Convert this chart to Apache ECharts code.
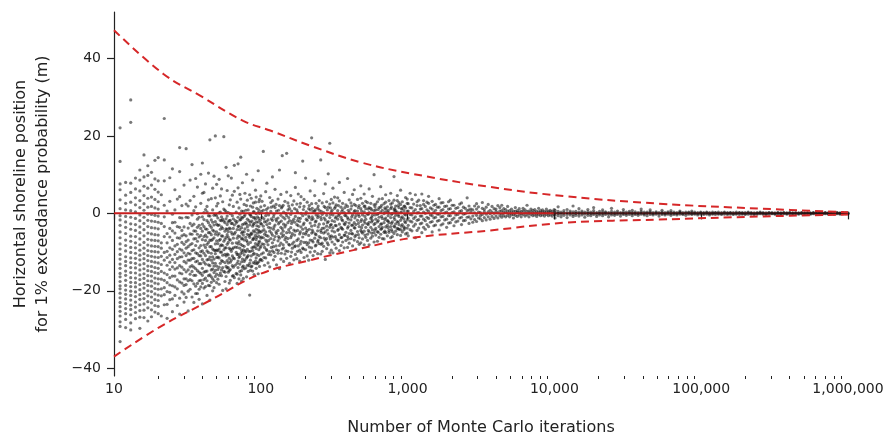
<!DOCTYPE html>
<html><head><meta charset="utf-8">
<script src="https://cdn.jsdelivr.net/npm/echarts@6/dist/echarts.min.js"></script>
<style>html,body{margin:0;padding:0;background:#fff}#c{width:888px;height:437px}</style>
</head><body><div id="c"></div>
<script>
// ---- tick labels ----
const xTicks = [10, 100, 1000, 10000, 100000, 1000000];
const xMinorTicks = [20,30,40,50,60,70,80,90,200,300,400,500,600,700,800,900,
  2000,3000,4000,5000,6000,7000,8000,9000,20000,30000,40000,50000,60000,70000,80000,90000,
  200000,300000,400000,500000,600000,700000,800000,900000];
const yTicks = [-40, -20, 0, 20, 40];

// ---- bound curves ----
const upperBound = [[10,47.3],[21.7,36],[38.6,30.4],[75.9,23.9],[116,21.4],[217,17.5],[477,13.2],
  [1050,10.3],[3670,6.8],[12000,4.4],[52000,2.5],[260000,1.2],[1000000,0.3]];
const lowerBound = [[10,-37],[20.6,-29.3],[45,-22.5],[100,-15.6],[217,-12.1],[477,-9.1],
  [1050,-6.4],[3670,-4.4],[12000,-2.4],[52000,-1.6],[260000,-0.8],[1000000,-0.3]];
const zeroLine = [[10,0],[1000000,0]];

// ---- scatter samples: [iterations, [positions...]] ----
const cloudLow = [
 [11,[-33.1,-29.2,-28.0,-26.5,-25.3,-24.1,-23.0,-21.8,-20.6,-19.5,-18.7,-17.6,-16.4,-15.5,-14.2,-13.1,-11.8,-10.6,-9.2,-7.9,-6.3,-4.8,-3.1,-1.7,-0.6,1.2,3.5,6.1,7.6,13.4,22.1]],
 [12,[-29.5,-27.4,-25.9,-24.6,-23.3,-22.1,-20.9,-19.8,-18.6,-17.3,-16.0,-14.9,-13.5,-12.4,-11.2,-9.7,-8.3,-6.9,-5.2,-3.6,-2.2,-0.8,0.9,2.6,4.7,8.0]],
 [13,[-30.1,-28.3,-26.2,-24.8,-23.7,-22.4,-21.2,-20.1,-18.9,-17.8,-16.6,-15.3,-14.0,-12.7,-11.5,-10.1,-8.8,-7.2,-5.9,-4.1,-2.7,-1.0,0.7,2.9,5.4,7.8,23.5,29.3]],
 [14,[-27.2,-25.6,-24.2,-22.9,-21.5,-20.3,-19.0,-17.9,-16.7,-15.4,-14.1,-12.9,-11.6,-10.3,-8.9,-7.6,-6.0,-4.4,-2.9,-1.3,0.4,2.2,4.0,6.3,9.1]],
 [15,[-29.7,-26.8,-25.1,-23.6,-22.2,-21.0,-19.7,-18.4,-17.1,-15.9,-14.6,-13.3,-12.0,-10.8,-9.5,-8.1,-6.6,-5.0,-3.5,-1.9,-0.4,1.5,3.3,5.8,8.6,11.2]],
 [16,[-26.9,-25.0,-23.4,-22.0,-20.7,-19.3,-18.1,-16.8,-15.6,-14.3,-13.0,-11.7,-10.4,-9.0,-7.5,-5.8,-4.2,-2.6,-1.0,0.8,2.5,4.6,7.0,9.4,15.1]],
 [17,[-27.8,-24.4,-22.8,-21.3,-20.0,-18.6,-17.4,-16.1,-14.8,-13.6,-12.2,-10.9,-9.6,-8.2,-6.7,-5.1,-3.4,-1.8,-0.2,1.6,3.9,6.5,9.8,12.3]],
 [18,[-26.7,-24.9,-23.1,-21.6,-20.2,-18.8,-17.5,-16.2,-15.0,-13.7,-12.4,-11.1,-9.8,-8.4,-6.9,-5.3,-3.7,-2.0,-0.3,1.8,4.2,7.3,10.6]],
 [19,[-25.5,-23.8,-22.3,-20.8,-19.4,-18.0,-16.7,-15.3,-14.0,-12.6,-11.3,-9.9,-8.5,-7.0,-5.5,-3.8,-2.1,-0.5,1.4,3.6,6.2,8.9,13.7]],
 [20,[-25.9,-24.0,-22.5,-21.1,-19.6,-18.2,-16.9,-15.5,-14.2,-12.8,-11.4,-10.0,-8.6,-7.1,-5.6,-4.0,-2.3,-0.7,1.1,3.0,5.5,8.4,14.4]]
];
const cloud20to50 = [
 [21,[-26.5,-21.3,-17.0,-13.2,-11.1,-7.6,-2.6,4.8]],
 [22,[-23.6,-19.2,-15.4,-12.1,-6.0,-0.9,2.1,8.4,13.8,24.5]],
 [23,[-27.1,-20.2,-17.9,-13.4,-9.8,-5.2,0.6]],
 [24,[-22.3,-18.5,-14.5,-10.8,-8.9,-3.9,3.1,9.2]],
 [25,[-25.4,-18.7,-16.2,-11.9,-7.0,-4.5,-0.2,11.5]],
 [26,[-21.2,-16.2,-12.7,-10.6,-8.4,-2.3,6.1]],
 [27,[-23.8,-19.5,-14.1,-11.7,-9.9,-6.3,3.7]],
 [28,[-26.0,-17.7,-13.5,-9.2,-6.4,-1.1,4.3,10.8,17.0]],
 [29,[-20.3,-15.6,-13.9,-11.2,-7.5,-4.4,2.0]],
 [30,[-22.9,-18.6,-16.9,-12.4,-8.0,-3.5,7.3]],
 [31,[-18.4,-15.1,-12.8,-9.0,-5.8,-1.0,2.4,16.7]],
 [32,[-25.2,-20.1,-14.6,-10.3,-6.9,-3.8,1.9]],
 [33,[-17.1,-13.8,-10.5,-8.1,-5.3,3.3,8.6]],
 [34,[-21.6,-15.0,-11.7,-7.8,-3.2,-0.4,12.6]],
 [35,[-23.0,-18.2,-13.9,-9.4,-6.6,-2.8,4.4]],
 [36,[-18.8,-16.0,-12.5,-10.2,-4.6,1.7,9.0]],
 [37,[-20.7,-14.8,-12.3,-7.2,-3.6,-0.1,6.8]],
 [38,[-22.2,-17.4,-13.0,-8.9,-6.1,-3.1]],
 [39,[-19.0,-15.5,-11.0,-8.3,-5.7,2.6,10.1]],
 [40,[-23.4,-18.1,-14.2,-9.7,-6.8,-0.9,5.2,13.0]],
 [41,[-19.3,-15.2,-12.6,-8.2,-3.4,0.2,5.4]],
 [42,[-16.7,-13.1,-10.9,-7.0,-4.0,1.0,7.6]],
 [43,[-21.2,-14.9,-12.0,-9.7,-6.1,-1.9,0.4]],
 [44,[-18.6,-13.3,-10.1,-7.5,-2.4,3.5,10.4]],
 [45,[-22.4,-15.9,-11.3,-8.6,-5.0,-0.7,19.0]],
 [46,[-17.8,-14.6,-12.1,-8.6,-5.5,-1.7,3.8]],
 [47,[-20.0,-14.4,-11.2,-9.2,-4.3,0.9,6.5]],
 [48,[-19.2,-15.3,-11.8,-6.3,-3.0,-0.5,9.6]],
 [49,[-16.3,-12.9,-10.4,-7.9,-2.1,4.0,20.0]],
 [50,[-17.9,-13.6,-9.5,-7.1,-4.8,1.9,7.5]]
];
const cloud50to100 = [
 [51,[-17.0,-11.3,-7.8,-3.1,2.6]],[52,[-18.3,-13.9,-9.2,-5.2,0.1,8.8]],[53,[-15.4,-10.0,-6.7,-1.8,4.5]],
 [54,[-16.1,-12.2,-8.1,-3.5,-0.9,6.3]],[55,[-19.9,-14.0,-10.8,-5.9,3.0]],[56,[-15.0,-9.4,-7.2,-2.0,1.1,19.8]],
 [57,[-17.6,-12.7,-8.9,-4.6,0.8]],[58,[-19.5,-13.7,-11.0,-6.2,-1.4,11.9]],[59,[-14.1,-10.5,-5.5,-2.9,5.9]],
 [60,[-15.2,-12.8,-7.5,-4.7,0.2,9.7]],[61,[-18.0,-11.6,-9.0,-3.8,2.2]],[62,[-17.3,-14.5,-6.9,-1.8,3.5]],
 [63,[-12.1,-9.8,-4.9,-2.6,9.1]],[64,[-16.2,-11.0,-7.7,-0.6,4.7]],[65,[-13.9,-8.9,-6.4,-3.9,1.8]],
 [66,[-16.6,-11.7,-5.3,-3.0,5.7,12.4]],[68,[-15.5,-10.1,-7.6,-2.5,0.3]],[69,[-18.1,-12.9,-8.8,-4.2,2.9]],
 [70,[-14.0,-10.6,-5.8,-1.0,6.6,12.8]],[71,[-16.9,-11.4,-7.3,-3.3,1.4]],[72,[-13.1,-9.0,-6.0,-0.2,4.9]],
 [73,[-15.9,-10.4,-8.0,-1.6,3.7,14.5]],[74,[-17.5,-12.5,-6.6,-3.7,0.6]],[75,[-11.8,-8.3,-4.8,-1.2,7.9]],
 [76,[-16.8,-13.6,-9.4,-5.6,0.5]],[77,[-14.3,-10.7,-6.9,-2.7,2.3]],[78,[-12.0,-9.7,-4.0,-0.4,5.2]],
 [80,[-16.4,-11.5,-7.0,-2.8,2.0,10.1]],[81,[-13.4,-9.3,-5.4,-1.5,3.4]],[82,[-15.0,-10.9,-8.0,-4.4,0.9]],
 [84,[-21.1,-12.9,-6.2,-3.0,-0.2,4.8]],[85,[-14.7,-9.8,-7.5,-2.3,1.9]],[86,[-13.8,-11.0,-5.1,-0.8,3.9]],
 [88,[-14.9,-9.6,-6.8,-3.3,1.6,8.6]],[89,[-12.7,-8.7,-4.5,-1.1,2.7]],[90,[-15.8,-10.3,-6.3,-2.6,0.4]],
 [92,[-12.3,-7.8,-5.7,-1.5,2.9,6.0]],[93,[-14.2,-9.1,-4.1,-0.1,4.2]],[94,[-13.0,-10.6,-6.2,-3.2,1.3]],
 [96,[-15.6,-8.0,-4.3,-2.2,0.2,11.0]],[97,[-12.5,-9.4,-5.9,-1.3,3.0]],[98,[-13.7,-7.2,-4.6,0.0,3.6]],
 [100,[-11.9,-8.5,-6.4,-2.6,1.7,4.5]]
];
const cloud100to300 = [
 [102,[-12.2,-7.9,-4.6,-1.0,3.1]],[104,[-10.2,-6.3,-3.3,0.8,16.0]],[106,[-13.4,-8.8,-5.4,-2.2,2.0]],
 [108,[-11.5,-6.9,-4.8,-0.6,5.6]],[110,[-9.6,-7.4,-2.9,0.1,7.8]],[112,[-12.8,-8.1,-5.9,-1.7,1.4]],
 [115,[-13.8,-9.9,-4.6,-2.6,4.1]],[117,[-10.7,-6.5,-3.8,0.5,2.8]],[120,[-9.7,-7.6,-5.6,-1.8,3.3,9.4]],
 [122,[-12.0,-8.6,-4.1,-0.9,1.9]],[125,[-11.1,-6.0,-3.0,1.5,6.2]],[128,[-13.3,-9.4,-5.2,-2.0,0.6]],
 [131,[-10.3,-7.1,-4.4,-1.2,3.7]],[134,[-14.3,-8.3,-6.4,-2.3,2.0,11.2]],[137,[-11.8,-7.7,-3.6,-0.5,4.9]],
 [140,[-9.2,-6.0,-4.0,1.7,14.9]],[143,[-12.4,-8.9,-5.6,-2.8,0.3]],[146,[-10.5,-6.8,-3.5,-1.4,3.1]],
 [150,[-11.6,-7.4,-5.0,-0.6,5.5,15.5]],[153,[-9.8,-6.5,-2.4,0.9,2.7]],[157,[-12.9,-8.2,-4.9,-1.9,1.2]],
 [160,[-11.1,-6.3,-3.7,-0.3,4.6]],[164,[-9.0,-7.9,-5.2,-2.0,2.2]],[168,[-12.0,-7.4,-4.3,-1.5,3.2]],
 [172,[-10.6,-8.4,-4.6,-0.8,6.7,10.5]],[176,[-11.7,-7.0,-2.9,0.9,2.4]],[180,[-8.4,-6.6,-3.2,-1.2,5.0]],
 [184,[-12.3,-9.5,-5.3,-2.1,1.7]],[188,[-10.1,-7.2,-3.5,0.0,4.3]],[193,[-9.0,-6.1,-4.1,-0.6,13.5]],
 [197,[-11.4,-7.5,-2.5,1.8,3.6]],[202,[-9.4,-5.4,-3.8,-0.2,9.1]],[207,[-11.0,-8.1,-4.4,-1.8,2.9]],
 [212,[-12.1,-7.6,-5.7,-0.7,1.2]],[217,[-10.0,-6.9,-2.5,0.9,5.8]],[222,[-8.9,-5.1,-3.3,-1.6,2.5,19.5]],
 [227,[-10.9,-7.4,-4.8,-1.4,0.5]],[233,[-9.8,-6.4,-3.1,0.6,4.6,8.4]],[238,[-8.2,-5.5,-2.0,-0.4,2.6]],
 [244,[-10.4,-7.3,-4.5,-1.1,1.3]],[250,[-7.8,-6.0,-2.8,0.8,3.3]],[256,[-10.5,-6.3,-4.4,-1.0,13.8]],
 [262,[-9.8,-7.7,-3.9,-0.3,2.7]],[268,[-8.5,-5.1,-2.7,0.2,5.1]],[275,[-11.9,-6.9,-4.8,-1.7,1.5,7.6]],
 [281,[-9.1,-6.5,-3.3,-0.5,3.0]],[288,[-8.1,-5.3,-2.1,1.6,10.2]],[295,[-10.2,-6.0,-3.6,-1.1,2.4,18.1]]
];
const cloud300to1000 = [
 [302,[-9.5,-5.8,-2.9,0.4,3.6]],[310,[-10.2,-6.1,-3.7,-0.4,2.7,6.5]],[318,[-8.0,-4.8,-2.1,1.3,4.2]],
 [326,[-9.0,-6.6,-3.2,-0.9,2.2]],[334,[-7.1,-4.4,-1.5,0.7,4.0]],[343,[-9.6,-5.5,-2.8,-0.2,3.2,8.0]],
 [352,[-8.3,-6.3,-3.6,-1.0,1.6]],[361,[-7.4,-4.1,-1.9,1.0,2.6]],[370,[-8.9,-5.6,-2.7,0.2,5.4]],
 [380,[-7.0,-4.9,-2.3,-0.6,2.2]],[390,[-8.8,-6.0,-3.8,-1.1,1.8,9.0]],[400,[-7.7,-5.2,-2.5,0.3,3.5]],
 [411,[-6.5,-4.4,-1.7,1.1,2.7]],[422,[-8.4,-5.3,-3.0,-0.4,4.9]],[433,[-6.9,-3.7,-2.4,0.5,2.3,6.1]],
 [444,[-9.2,-5.6,-2.9,-0.6,2.0]],[456,[-7.3,-4.7,-1.8,0.6,3.6]],[468,[-8.0,-6.3,-3.4,-0.8,2.0]],
 [480,[-7.6,-4.4,-2.1,1.2,3.9,7.1]],[493,[-6.6,-5.1,-3.0,-0.4,2.6]],[506,[-8.1,-4.6,-2.0,0.4,1.8,5.0]],
 [519,[-6.2,-3.6,-1.5,1.2,3.1]],[533,[-7.0,-5.4,-2.7,-0.2,2.8]],[547,[-8.1,-4.8,-2.3,0.2,1.5,6.3]],
 [561,[-6.4,-3.6,-1.3,1.3,2.6]],[576,[-5.9,-4.2,-1.8,-0.5,4.4]],[591,[-7.4,-5.0,-2.9,0.7,2.2,10.0]],
 [607,[-5.6,-3.9,-1.5,0.9,2.4]],[623,[-7.2,-4.7,-2.2,-0.3,3.0]],[639,[-6.2,-3.4,-1.0,1.5,3.7]],
 [656,[-5.4,-4.1,-2.8,0.3,1.6,6.9]],[673,[-6.5,-3.6,-1.3,0.8,3.8]],[691,[-6.6,-4.9,-2.4,-0.1,2.5]],
 [709,[-5.0,-3.5,-1.2,1.1,2.9,4.8]],[728,[-5.8,-3.1,-1.9,0.4,1.7]],[747,[-4.9,-4.4,-2.4,0.1,3.3]],
 [767,[-6.3,-3.4,-1.1,1.2,2.4,5.2]],[787,[-6.0,-4.7,-2.2,0.0,2.7]],[808,[-5.2,-3.3,-1.1,1.0,3.4,9.5]],
 [829,[-4.6,-2.7,-0.5,0.7,1.9]],[851,[-5.5,-3.9,-2.1,0.3,3.3,4.6]],[873,[-4.1,-2.9,-0.8,1.5,2.8]],
 [896,[-5.7,-4.2,-1.8,0.2,2.3,6.0]],[920,[-4.8,-2.9,-0.9,1.3,3.0]],[944,[-4.2,-3.5,-1.4,0.7,1.8]],
 [969,[-5.3,-2.4,-0.4,1.4,4.1]],[994,[-5.1,-3.8,-1.7,0.5,2.6,3.7]]
];
// extra samples in the densest part of the cloud
const cloudCore = [
 [21,[-19.5,-15.0,-9.0]],[22,[-21.0,-17.3,-10.1,-3.4]],[23,[-23.5,-15.8,-11.4,-7.6]],[24,[-20.4,-16.6,-12.6,-6.1]],
 [25,[-22.1,-13.8,-9.3,-2.4]],[26,[-19.0,-14.4,-5.1,0.9]],[27,[-17.2,-8.0,-3.4]],[28,[-21.9,-15.4,-11.3,-3.6]],
 [29,[-18.0,-9.5,-5.8,-1.2]],[30,[-20.8,-14.5,-10.2,-5.5]],[31,[-21.7,-16.9,-10.9,-7.3]],[32,[-17.4,-12.1,-8.6,-1.1]],
 [33,[-19.6,-15.7,-12.1,-2.6]],[34,[-17.4,-13.5,-9.6,-5.4]],[35,[-16.0,-11.6,-4.5,0.7]],[36,[-20.7,-14.3,-8.3,-6.5]],
 [37,[-18.1,-10.4,-5.4,-1.5]],[38,[-19.6,-15.2,-10.9,-1.0]],[39,[-17.3,-13.0,-9.9,-3.9]],[40,[-16.0,-11.9,-4.6,-2.8]],
 [41,[-17.1,-10.3,-6.0,-1.6]],[42,[-18.9,-15.0,-8.8,-5.6]],[43,[-17.4,-8.0,-4.1,1.8]],[44,[-16.1,-11.9,-5.0,-0.6]],
 [45,[-18.7,-13.5,-6.9,-3.1]],[46,[-16.4,-10.3,-7.0,-3.6]],[47,[-16.9,-12.8,-6.7,-2.3]],[48,[-17.4,-13.6,-9.5,-4.6]],
 [49,[-14.7,-9.6,-5.4,-0.3]],[50,[-15.7,-11.4,-2.8,-0.6]],[51,[-14.5,-9.6,-5.6,-1.2]],[52,[-16.0,-11.5,-7.0,-3.0]],
 [53,[-12.9,-8.4,-4.1,0.3]],[54,[-14.6,-10.0,-5.8,-1.9]],[55,[-12.4,-8.3,-3.9,-1.5]],[57,[-15.2,-10.6,-6.7,-2.4]],
 [58,[-16.3,-8.9,-4.0,0.4]],[59,[-12.2,-8.0,-4.1,-0.7]],[60,[-14.0,-10.7,-6.1,-2.2]],[61,[-14.8,-6.7,-1.9]],
 [62,[-12.6,-9.3,-4.0,-0.1]],[64,[-13.5,-9.2,-5.4,-2.6]],[65,[-16.1,-11.5,-1.4]],[67,[-13.4,-8.7,-4.9,-1.9]],
 [69,[-15.7,-10.6,-6.4,-2.1]],[70,[-12.3,-7.9,-3.4]],[72,[-15.0,-11.1,-4.2,-1.7]],[74,[-14.8,-9.6,-5.1,-1.0]],
 [75,[-13.9,-10.1,-6.5,-2.9]],[77,[-12.4,-8.5,-4.8,-0.8]],[79,[-14.1,-9.9,-6.2,-2.4,0.8]],[81,[-11.2,-7.4,-3.5]],
 [83,[-13.5,-9.8,-5.7,-1.9]],[85,[-12.1,-5.5,-0.4]],[87,[-13.6,-8.9,-5.3,-2.0]],[89,[-10.6,-6.6,-2.9,0.4]],
 [91,[-12.9,-8.6,-4.8,-1.1]],[93,[-11.5,-6.8,-2.3]],[95,[-12.8,-8.3,-5.1,-0.9]],[97,[-10.9,-7.5,-3.4,0.9]],
 [99,[-12.0,-8.9,-4.9,-1.8]],[101,[-10.5,-6.1,-2.8,0.5]],[105,[-11.4,-8.0,-4.2,-1.4]],[109,[-9.3,-5.7,-2.1,1.0]],
 [113,[-10.6,-7.0,-3.6,-0.4]],[118,[-8.8,-5.1,-1.4,1.6]],[123,[-10.1,-6.8,-3.5,-0.3]],[127,[-8.4,-4.8,-1.5,2.3]],
 [132,[-9.6,-6.0,-2.7,0.8]],[138,[-10.3,-5.2,-2.0,1.4]],[142,[-8.1,-4.6,-1.0,2.1]],[148,[-9.7,-6.2,-3.0,0.0]],
 [155,[-8.0,-4.2,-1.1,1.9]],[162,[-10.0,-5.8,-2.6,0.6]],[170,[-8.6,-5.6,-2.3,1.2]],[178,[-9.8,-4.4,-1.9,0.3]],
 [186,[-7.9,-4.8,-1.3,2.6]],[195,[-9.2,-5.2,-2.9,1.0]],[204,[-7.5,-4.9,-1.5,0.4]],[214,[-8.7,-4.1,-1.1,2.0]],
 [224,[-7.0,-4.3,-0.9,1.3]],[235,[-8.4,-5.3,-2.2,0.9]],[246,[-6.9,-3.5,-0.6,1.9]],[258,[-8.0,-4.9,-1.6,0.5]],
 [270,[-6.4,-3.8,-1.2,1.8]],[284,[-7.6,-4.3,-2.4,0.9]],[298,[-6.6,-3.0,-0.3,1.4]],[306,[-7.4,-4.5,-1.9,0.8]],
 [322,[-6.0,-3.1,-1.2,1.7]],[338,[-7.0,-4.1,-0.6,2.0]],[356,[-6.2,-3.9,-1.6,0.5]],[374,[-5.7,-2.9,-0.5,1.5]],
 [394,[-6.6,-3.4,-1.5,0.8]],[416,[-5.2,-3.1,-0.9,1.9]],[438,[-6.0,-3.8,-1.2,0.7]],[462,[-5.5,-2.6,-0.3,1.5]],
 [486,[-4.8,-3.7,-1.6,0.6]],[512,[-5.6,-2.5,-0.8,1.9]],[540,[-4.4,-2.9,-0.2,1.1]],[569,[-5.1,-2.2,-1.0,0.9]],
 [600,[-4.3,-2.6,-0.4,1.7]],[631,[-4.9,-1.9,0.0,1.0]],[665,[-4.0,-2.7,-0.8,2.1]],[700,[-4.6,-1.6,0.3,1.4]],
 [737,[-3.7,-2.0,-0.6,0.8]],[777,[-4.2,-2.6,-0.3,1.6]],[818,[-3.5,-1.6,0.5,1.2]],[862,[-4.0,-2.3,-0.4,2.0]],
 [908,[-3.3,-1.2,0.2,1.1]],[956,[-3.8,-2.1,-0.2,1.9]]
];
const cloud1e3to1e4 = [
 [1010,[-5.8,-3.1,-1.2,0.6,2.5]],[1040,[-4.2,-2.0,-0.3,1.5,5.2]],[1070,[-4.5,-2.2,-0.4,1.4,3.6]],
 [1100,[-3.3,-1.3,0.5,2.4]],[1130,[-6.3,-2.8,-0.9,1.0,4.8]],[1160,[-4.4,-1.8,0.1,2.0,3.0]],
 [1190,[-3.8,-1.6,0.2,3.4]],[1220,[-2.7,-0.7,1.1,2.0]],[1250,[-5.0,-2.5,-0.7,1.2,5.0]],
 [1285,[-3.6,-1.5,0.3,2.3,3.3]],[1320,[-4.1,-1.9,0.0,1.8]],[1355,[-2.9,-1.0,0.9,2.9]],
 [1390,[-3.4,-1.3,0.5,2.6,4.4]],[1430,[-2.3,-0.4,1.4]],[1470,[-4.8,-2.1,-0.6,1.1,3.1]],
 [1510,[-3.2,-1.2,0.3,2.1]],[1550,[-3.0,-1.0,0.8,2.3]],[1595,[-2.0,-0.2,1.6]],
 [1640,[-4.3,-1.8,-0.2,1.6,3.8]],[1690,[-3.0,-0.9,0.7,2.7]],[1740,[-2.7,-0.8,1.0,2.8]],
 [1790,[-1.7,0.1,1.8]],[1845,[-3.6,-1.5,0.3,1.9]],[1900,[-2.5,-0.6,1.1,3.0]],
 [1955,[-2.4,-0.6,1.2,3.4]],[2010,[-1.6,0.2,2.1]],[2070,[-3.2,-1.2,0.4,2.1]],
 [2130,[-2.2,-0.4,1.3]],[2200,[-2.0,-0.3,1.5]],[2265,[-1.2,0.5,2.4]],
 [2330,[-2.9,-1.0,0.7,2.7]],[2400,[-1.9,-0.2,1.6]],[2470,[-1.8,-0.1,1.3]],
 [2545,[-1.0,0.7,4.0]],[2620,[-2.6,-0.9,0.9,1.9]],[2700,[-1.4,0.3,1.1]],
 [2780,[-2.3,-0.7,0.9]],[2860,[-1.6,0.1,1.9]],[2950,[-2.1,-0.5,1.1,2.5]],
 [3040,[-1.2,0.3,1.7]],[3130,[-1.4,-0.6,0.2]],[3230,[-1.9,-0.3,1.3,2.8]],
 [3330,[-1.1,0.4,1.0]],[3430,[-1.7,-0.2,1.6]],[3540,[-0.9,0.4,2.3]],
 [3650,[-1.5,-0.1,0.8]],[3760,[-0.8,0.3,1.8]],[3880,[-1.3,0.0,1.2]],
 [4000,[-0.7,0.5,1.1]],[4120,[-1.2,0.1,2.0]],[4250,[-0.6,0.6,1.5]],
 [4380,[-1.0,-0.2,0.7,2.1]],[4520,[-0.6,0.4,1.2]],[4660,[-0.9,0.2,1.0]],
 [4800,[-0.5,0.5,1.8]],[4950,[-0.9,-0.1,0.7]],[5100,[-0.4,0.3,1.1]],
 [5260,[-1.2,-0.3,0.6]],[5420,[-0.5,0.5,1.5]],[5590,[-0.8,0.2,0.7]],
 [5760,[-0.4,0.4,1.2]],[5940,[-0.9,-0.1,0.5]],[6120,[-0.3,0.6,1.3]],
 [6310,[-0.7,0.1,0.9]],[6510,[-0.4,0.5,2.1]],[6710,[-0.9,0.0,0.6]],
 [6920,[-0.3,0.4,1.1]],[7130,[-0.6,0.1,0.8]],[7350,[-0.4,0.3,1.0]],
 [7580,[-0.8,-0.1,0.5]],[7810,[-0.3,0.4,1.3]],[8050,[-0.6,0.1,0.7]],
 [8300,[-0.4,0.3,0.9]],[8560,[-0.7,0.0,0.5]],[8820,[-0.3,0.4,1.1]],
 [9090,[-0.6,0.1,0.6]],[9370,[-0.4,0.3,0.8]],[9660,[-0.7,0.0,0.5]],[9960,[-0.3,0.3,1.0]]
];
const cloudHigh = [
 [10100,[-1.2,-0.4,0.2,0.8]],[10600,[-0.6,0.0,0.5,1.7]],[11100,[-0.9,-0.2,0.3]],[11600,[-0.5,0.1,0.7]],
 [12200,[-1.1,-0.3,0.2,1.0]],[12800,[-0.4,0.1,0.6]],[13400,[-0.8,-0.2,0.4,1.9]],[14000,[-0.5,0.0,0.5]],
 [14700,[-0.7,-0.1,0.3,1.2]],[15400,[-0.4,0.1,0.6]],[16100,[-1.0,-0.2,0.3]],[16900,[-0.5,0.0,0.4,1.0]],
 [17700,[-0.6,-0.1,0.3]],[18500,[-0.3,0.1,0.7,1.5]],[19400,[-0.8,-0.2,0.2]],[20300,[-0.4,0.0,0.5]],
 [21300,[-0.6,-0.1,0.3,0.9]],[22300,[-0.3,0.1,0.4]],[23400,[-0.9,-0.2,0.2]],[24500,[-0.4,0.0,0.5,1.3]],
 [25700,[-0.5,-0.1,0.3]],[26900,[-0.3,0.1,0.6]],[28200,[-0.7,-0.1,0.2]],[29500,[-0.3,0.0,0.4,1.0]],
 [30900,[-0.5,-0.1,0.3]],[32400,[-0.3,0.1,0.5]],[33900,[-0.6,-0.1,0.2,0.8]],[35500,[-0.3,0.0,0.4]],
 [37200,[-0.5,-0.1,0.2]],[39000,[-0.2,0.1,0.5,1.1]],[40900,[-0.4,-0.1,0.3]],[42800,[-0.6,0.0,0.3]],
 [44900,[-0.3,0.1,0.4,0.9]],[47000,[-0.4,-0.1,0.2]],[49300,[-0.2,0.1,0.4]],[51600,[-0.7,-0.1,0.2]],
 [54100,[-0.3,0.0,0.3,0.8]],[56700,[-0.4,-0.1,0.2]],[59400,[-0.2,0.1,0.4]],[62200,[-0.5,-0.1,0.2,0.7]],
 [65200,[-0.3,0.0,0.3]],[68300,[-0.4,-0.1,0.2]],[71600,[-0.2,0.1,0.3,0.6]],[75000,[-0.3,-0.1,0.2]],
 [78600,[-0.5,0.0,0.3]],[82300,[-0.2,0.1,0.3]],[86300,[-0.3,-0.1,0.2,0.6]],[90400,[-0.2,0.0,0.3]],
 [94700,[-0.4,-0.1,0.2]],[99200,[-0.2,0.1,0.3]],
 [104000,[-0.3,0.0,0.2]],[109000,[-0.2,0.1,0.3]],[114000,[-0.4,-0.1,0.2]],[119500,[-0.2,0.0,0.3]],
 [125000,[-0.3,0.1,0.2]],[131000,[-0.2,0.0,0.3]],[137500,[-0.3,-0.1,0.2]],[144000,[-0.2,0.1,0.3]],
 [151000,[-0.3,0.0,0.2]],[158000,[-0.2,0.1,0.2]],[165500,[-0.3,-0.1,0.2]],[173500,[-0.2,0.0,0.3]],
 [182000,[-0.3,0.1,0.2]],[190500,[-0.2,0.0,0.2]],[199500,[-0.3,-0.1,0.2]],[209000,[-0.2,0.1,0.3]],
 [219000,[-0.2,0.0,0.2]],[229500,[-0.3,-0.1,0.1]],[240500,[-0.2,0.0,0.2]],[252000,[-0.1,0.1,0.3]],
 [264000,[-0.2,0.0,0.2]],[276500,[-0.3,-0.1,0.1]],[289500,[-0.2,0.1,0.2]],[303500,[-0.1,0.0,0.2]],
 [318000,[-0.2,-0.1,0.1]],[333000,[-0.1,0.1,0.2]],[349000,[-0.2,0.0,0.1]],[365500,[-0.1,0.1,0.2]],
 [383000,[-0.2,0.0,0.1]],[401000,[-0.1,0.1,0.2]],[420000,[-0.2,0.0,0.1]],[440000,[-0.1,0.0,0.2]],
 [461000,[-0.2,0.0,0.1]],[483000,[-0.1,0.1,0.2]],[506000,[-0.2,0.0,0.1]],[530000,[-0.1,0.0,0.2]],
 [555000,[-0.2,0.0,0.1]],[581000,[-0.1,0.1,0.2]],[609000,[-0.2,0.0,0.1]],[638000,[-0.1,0.0,0.2]],
 [668000,[-0.2,0.0,0.1]],[700000,[-0.1,0.1,0.2]],[733000,[-0.2,0.0,0.1]],[768000,[-0.1,0.0,0.2]],
 [804000,[-0.2,0.0,0.1]],[842000,[-0.1,0.1,0.2]],[882000,[-0.2,0.0,0.1]],[924000,[-0.1,0.0,0.2]],
 [968000,[-0.1,0.0,0.1]],[1000000,[-0.1,0.0,0.1]]
];

// ---- build scatter lists ----
const flatten = groups => {
  const out = [];
  groups.forEach(g => g.forEach(([n, ys]) => ys.forEach(y => out.push([n, y]))));
  return out;
};
const pointsSpread = flatten([cloudLow, cloud20to50, cloud50to100, cloud100to300, cloud300to1000, cloudCore, cloud1e3to1e4]);
const pointsConverged = flatten([cloudHigh]);

const FONT = 'DejaVu Sans';
const fmtComma = v => String(Math.round(v)).replace(/\B(?=(\d{3})+(?!\d))/g, ',');
const axisCol = '#222';
const dotStyle = {color: 'rgba(20,20,20,0.72)'};

const chart = echarts.init(document.getElementById('c'), null, {renderer: 'canvas'});
chart.setOption({
  animation: false,
  backgroundColor: '#fff',
  grid: {left: 114, right: 40, top: 12, bottom: 61, containLabel: false, outerBoundsMode: 'none'},
  xAxis: [{
    type: 'log', logBase: 10, min: 10, max: 1000000,
    axisLine: {show: true, lineStyle: {color: axisCol, width: 1.2}},
    axisTick: {show: true, inside: false, length: 6, customValues: xTicks, lineStyle: {color: axisCol, width: 1.2}},
    axisLabel: {customValues: xTicks, formatter: fmtComma, fontFamily: FONT, fontSize: 14, color: '#222', margin: 6},
    splitLine: {show: false},
    name: 'Number of Monte Carlo iterations', nameLocation: 'middle', nameGap: 44,
    nameTextStyle: {fontFamily: FONT, fontSize: 16, color: '#222'}
  }, {
    type: 'log', logBase: 10, min: 10, max: 1000000, position: 'bottom', gridIndex: 0,
    axisLine: {show: false},
    axisTick: {show: true, inside: false, length: 3, customValues: xMinorTicks, lineStyle: {color: axisCol, width: 1}},
    axisLabel: {show: false},
    splitLine: {show: false}
  }],
  yAxis: {
    type: 'value', min: -42, max: 52,
    axisLine: {show: true, onZero: false, lineStyle: {color: axisCol, width: 1.2}},
    axisTick: {show: true, length: 7, customValues: yTicks, lineStyle: {color: axisCol, width: 1.2}},
    axisLabel: {customValues: yTicks, fontFamily: FONT, fontSize: 14, color: '#222', margin: 13,
      formatter: v => (v < 0 ? '\u2212' + Math.abs(v) : String(v))},
    splitLine: {show: false},
    name: 'Horizontal shoreline position\nfor 1% exceedance probability (m)',
    nameLocation: 'middle', nameRotate: 90, nameGap: 60,
    nameTextStyle: {fontFamily: FONT, fontSize: 16, color: '#222', lineHeight: 22}
  },
  series: [{
    type: 'scatter', data: pointsSpread, symbolSize: 3.2, z: 1,
    itemStyle: dotStyle
  }, {
    type: 'line', data: zeroLine, symbol: 'none', z: 2,
    lineStyle: {color: '#c81e1e', width: 2}
  }, {
    type: 'scatter', data: pointsConverged, symbolSize: 3.2, z: 3,
    itemStyle: dotStyle
  }, {
    type: 'line', data: upperBound, symbol: 'none', smooth: 0.4, z: 4,
    lineStyle: {color: '#d62728', width: 2, type: [8, 5]}
  }, {
    type: 'line', data: lowerBound, symbol: 'none', smooth: 0.4, z: 4,
    lineStyle: {color: '#d62728', width: 2, type: [8, 5]}
  }]
});
</script></body></html>
